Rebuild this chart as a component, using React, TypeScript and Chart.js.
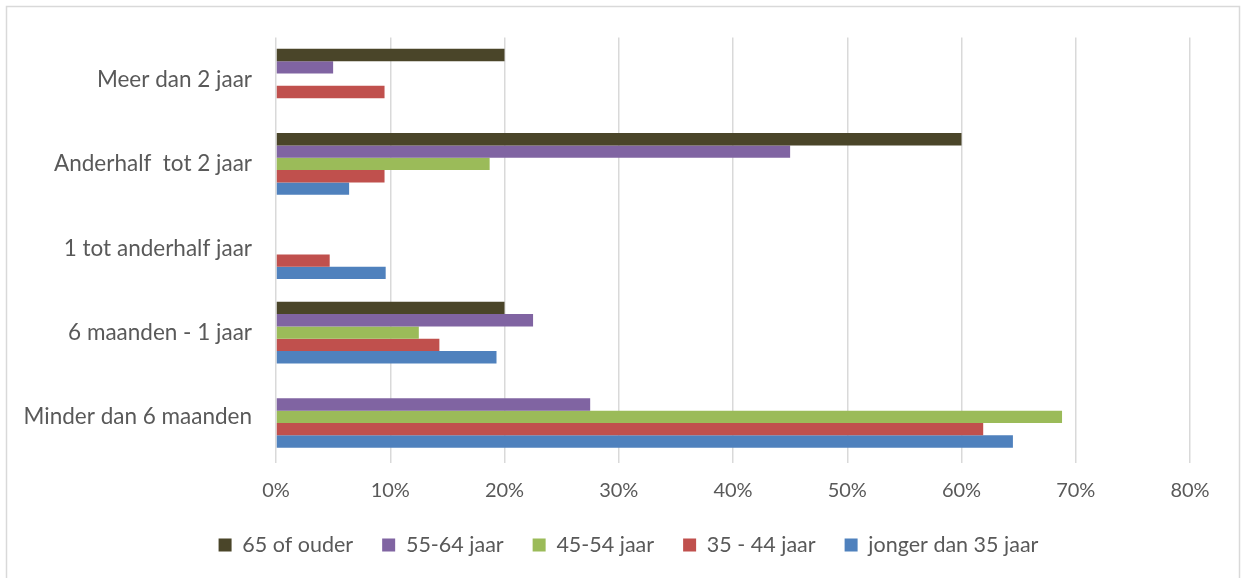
import React, { useEffect, useRef } from 'react';
import { Chart, registerables } from 'chart.js';

Chart.register(...registerables);

const categories = ['Meer dan 2 jaar', 'Anderhalf  tot 2 jaar', '1 tot anderhalf jaar', '6 maanden - 1 jaar', 'Minder dan 6 maanden'];
const seriesNames = ['65 of ouder', '55-64 jaar', '45-54 jaar', '35 - 44 jaar', 'jonger dan 35 jaar'];
const seriesColors = ['#4A4529', '#8064A2', '#9BBB59', '#C0504D', '#4F81BD'];
const values65Plus = [20, 60, null, 20, null];
const values55to64 = [5, 45, null, 22.5, 27.5];
const values45to54 = [null, 18.7, null, 12.5, 68.8];
const values35to44 = [9.5, 9.5, 4.7, 14.3, 61.9];
const valuesUnder35 = [null, 6.4, 9.6, 19.3, 64.5];
const xMin = 0;
const xMax = 80;
const xStep = 10;

const seriesValues = [values65Plus, values55to64, values45to54, values35to44, valuesUnder35];

const TEXT = '#595959';
const GRID = '#D9D9D9';

const borderPlugin = {
  id: 'outerBorder',
  afterLayout(chart: any) {
    if (chart.legend) {
      chart.legend.left += 33.5;
      chart.legend.right += 33.5;
    }
  },
  afterDraw(chart: any) {
    const ctx = chart.ctx;
    ctx.save();
    ctx.strokeStyle = GRID;
    ctx.lineWidth = 1.5;
    ctx.strokeRect(6.5, 6.5, 1233, 600);
    ctx.restore();
  },
};

export default function App() {
  const ref = useRef<HTMLCanvasElement | null>(null);

  useEffect(() => {
    document.body.style.margin = '0';
    document.body.style.background = '#ffffff';
    const canvas = ref.current;
    if (!canvas) return;
    const chart = new Chart(canvas, {
      type: 'bar',
      data: {
        labels: categories,
        datasets: seriesNames.map((name, i) => ({
          label: name,
          data: seriesValues[i],
          backgroundColor: seriesColors[i],
          borderWidth: 0,
          categoryPercentage: 0.732,
          barPercentage: 1,
        })),
      },
      options: {
        indexAxis: 'y',
        animation: false,
        responsive: false,
        devicePixelRatio: 1,
        layout: { padding: { left: 0, right: 54, top: 36, bottom: 12.25 } },
        plugins: {
          tooltip: { enabled: false },
          legend: {
            position: 'bottom',
            labels: {
              boxWidth: 13,
              boxHeight: 13,
              padding: 29,
              color: TEXT,
              font: { family: 'Lato', size: 21.5 },
            },
          },
        },
        scales: {
          x: {
            min: xMin,
            max: xMax,
            grid: { color: GRID, lineWidth: 1.5, drawTicks: true, tickLength: 4, tickColor: GRID },
            border: { display: false },
            ticks: {
              stepSize: xStep,
              padding: 16,
              color: TEXT,
              font: { family: 'Lato', size: 20 },
              callback: (v: any) => `${v}%`,
            },
            afterFit: (s: any) => {
              s.height = 46.25;
            },
          },
          y: {
            grid: { display: false, drawTicks: false },
            border: { display: false },
            ticks: {
              padding: 24,
              color: TEXT,
              font: { family: 'Lato', size: 22.5 },
            },
            afterFit: (s: any) => {
              s.width = 276;
            },
          },
        },
      },
      plugins: [borderPlugin],
    });
    return () => chart.destroy();
  }, []);

  return <canvas ref={ref} width={1244} height={578} style={{ display: 'block' }} />;
}
